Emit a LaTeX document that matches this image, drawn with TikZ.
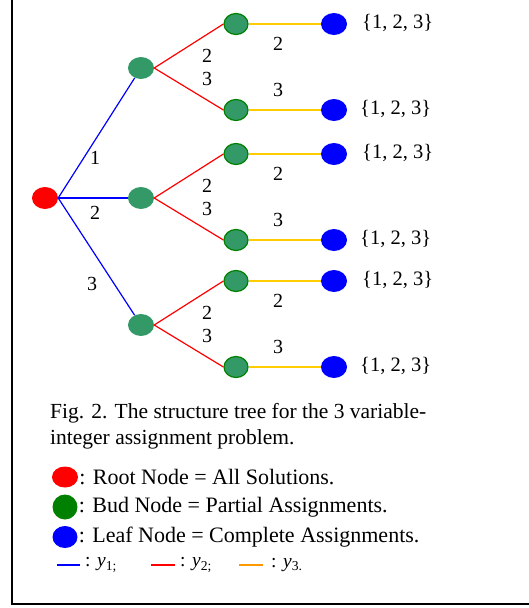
\documentclass[tikz,border=0pt]{standalone}
\usepackage{fontspec}
\setmainfont{Liberation Serif}
\usetikzlibrary{shapes.geometric,positioning}
\definecolor{rootred}{RGB}{255,0,0}
\definecolor{budgreen}{RGB}{51,153,102}
\definecolor{budrim}{RGB}{0,128,0}
\definecolor{legendgreen}{RGB}{0,128,0}
\definecolor{leafblue}{RGB}{0,0,255}
\definecolor{goldline}{RGB}{255,204,0}
\definecolor{orangeline}{RGB}{255,153,0}
\tikzset{
  dot/.style={ellipse, inner sep=0pt, minimum width=26pt, minimum height=22pt},
  rootnode/.style={dot, fill=rootred},
  budnode/.style={dot, fill=budgreen},
  subnode/.style={dot, fill=budgreen, draw=budrim, line width=1.2pt, minimum width=24pt, minimum height=21pt},
  leafnode/.style={dot, fill=leafblue},
  yone/.style={draw=leafblue, line width=1.2pt},
  ytwo/.style={draw=rootred, line width=1.2pt},
  ythree/.style={draw=goldline, line width=1.4pt},
  lbl/.style={inner sep=0pt, font=\fontsize{20}{22}\selectfont},
  setlbl/.style={right, inner sep=0pt, font=\fontsize{20.5}{22}\selectfont},
  keytext/.style={inner sep=0pt, font=\fontsize{22}{24}\selectfont},
}

\begin{document}
\begin{tikzpicture}[x=1pt, y=-1pt]
  \useasboundingbox (0,0) rectangle (529,608);
  % frame
  \draw[line width=2pt] (11.5,0) -- (11.5,603.5) -- (529,603.5);

  % root
  \node[rootnode] (root) at (45,198) {};

  % three buds, each with two sub-buds and two leaves
  \foreach \i/\y in {1/68, 2/198, 3/325} {
    \node[budnode] (bud\i) at (141,\y) {};
    \node[subnode] (bud\i a) at (236,\y-44) {};
    \node[subnode] (bud\i b) at (236,\y+42) {};
    \node[leafnode] (leaf\i a) at (334,\y-44) {};
    \node[leafnode] (leaf\i b) at (334,\y+42) {};
    \node[setlbl] at (362,\y-45) {\{1, 2, 3\}};
    \node[setlbl] at (360,\y+41) {\{1, 2, 3\}};

    \draw[yone] (root.east) -- (bud\i);
    \draw[ytwo] (bud\i.east) -- (bud\i a.west);
    \draw[ytwo] (bud\i.east) -- (bud\i b.west);
    \draw[ythree] (bud\i a) -- (leaf\i a);
    \draw[ythree] (bud\i b) -- (leaf\i b);

    \node[lbl] at (207,\y-12) {2};
    \node[lbl] at (207,\y+11) {3};
    \node[lbl] at (278,\y-24) {2};
    \node[lbl] at (278,\y+22) {3};
  }

  % labels of the first level
  \node[lbl] at (95,158) {1};
  \node[lbl] at (95,213) {2};
  \node[lbl] at (92,284) {3};

  % caption
  \node[anchor=west, align=left, inner sep=0pt, font=\fontsize{21.5}{26}\selectfont] (caption) at (50,426)
    {Fig. 2. The structure tree for the 3 variable-\\integer assignment problem.};

  % legend
  \node[rootnode, minimum height=21pt] (keyroot) at (65,477) {};
  \node[dot, fill=legendgreen, minimum width=25pt, minimum height=25pt] (keybud) at (65,507) {};
  \node[leafnode, minimum width=25pt] (keyleaf) at (65,537) {};
  \node[keytext, right=1pt of keyroot] {: Root Node = All Solutions.};
  \node[keytext, right=1pt of keybud] {: Bud Node = Partial Assignments.};
  \node[keytext, right=1pt of keyleaf] {: Leaf Node = Complete Assignments.};

  \coordinate (k1a) at (57,565);  \coordinate (k1b) at (80,565);
  \coordinate (k2a) at (151,565); \coordinate (k2b) at (175,565);
  \coordinate (k3a) at (239,565); \coordinate (k3b) at (263,565);
  \draw[yone, line width=1.6pt] (k1a) -- (k1b);
  \draw[ytwo, line width=1.6pt] (k2a) -- (k2b);
  \draw[draw=orangeline, line width=1.6pt] (k3a) -- (k3b);
  \node[right=5pt of k1b, inner sep=0pt, font=\fontsize{19.5}{20}\selectfont] {: \textit{y}\textsubscript{1;}};
  \node[right=5pt of k2b, inner sep=0pt, font=\fontsize{19.5}{20}\selectfont] {: \textit{y}\textsubscript{2;}};
  \node[right=8pt of k3b, inner sep=0pt, font=\fontsize{19.5}{20}\selectfont] {: \textit{y}\textsubscript{3.}};
\end{tikzpicture}
\end{document}
